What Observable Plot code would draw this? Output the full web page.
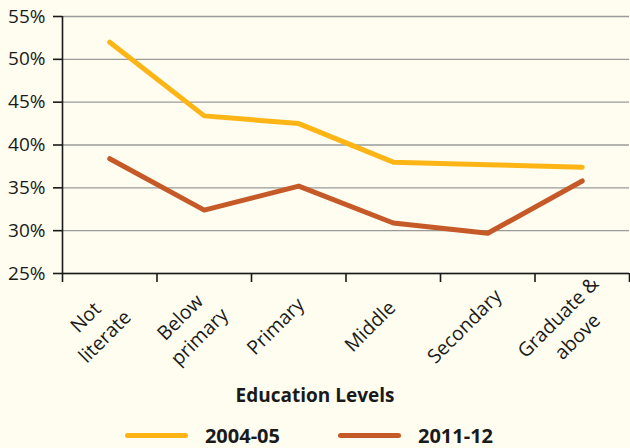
<!DOCTYPE html>
<html>
<head>
<meta charset="utf-8">
<script src="https://cdn.jsdelivr.net/npm/d3@7"></script>
<script src="https://cdn.jsdelivr.net/npm/@observablehq/plot@0.6"></script>
<style>
  html, body { margin: 0; padding: 0; background: #fefdf0; }
  body { width: 630px; height: 448px; overflow: hidden; font-family: "Open Sans", sans-serif; color: #1a1a1a; }
  #xlabel { text-align: center; font-weight: 700; font-size: 19px; height: 30px; line-height: 30px; }
  #legend { display: flex; justify-content: center; align-items: center; margin-top: 12px; height: 26px; padding-right: 12px; }
  .item { display: flex; align-items: center; font-weight: 700; font-size: 20px; }
  .sw { width: 63px; height: 5px; border-radius: 3px; margin-right: 17px; }
</style>
</head>
<body>
<div id="chart"></div>
<div id="xlabel">Education Levels</div>
<div id="legend"></div>
<script>
const categories = ["Not literate", "Below primary", "Primary", "Middle", "Secondary", "Graduate & above"];
const tickLabels = ["Not\nliterate", "Below\nprimary", "Primary", "Middle", "Secondary", "Graduate &\nabove"];
const series = ["2004-05", "2011-12"];
const values2004 = [52.0, 43.4, 42.5, 38.0, 37.7, 37.4];
const values2011 = [38.4, 32.4, 35.2, 30.9, 29.7, 35.8];
const yTicks = [25, 30, 35, 40, 45, 50, 55];
const colors = ["#fdb515", "#c55a28"];

const rows = [];
categories.forEach((c, i) => {
  rows.push({cat: c, idx: i, series: series[0], value: values2004[i]});
  rows.push({cat: c, idx: i, series: series[1], value: values2011[i]});
});
const labelRows = tickLabels.map((t, i) => ({t, idx: i, lines: t.split("\n").length}));

const chart = Plot.plot({
  width: 630,
  height: 380,
  marginLeft: 62,
  marginRight: 1,
  marginTop: 16,
  marginBottom: 107,
  style: {background: "transparent", fontFamily: "Open Sans, sans-serif", color: "#1a1a1a"},
  x: {domain: [0, categories.length], axis: null},
  y: {domain: [25, 55], axis: null},
  color: {domain: series, range: colors},
  marks: [
    Plot.gridY(yTicks, {stroke: "#9a9a9a", strokeOpacity: 1, strokeWidth: 1.3}),
    Plot.line(rows, {x: d => d.idx + 0.5, y: "value", z: "series", stroke: "series", strokeWidth: 5, strokeLinejoin: "round"}),
    Plot.ruleX([0], {stroke: "#1a1a1a", strokeWidth: 1.6}),
    Plot.ruleY([25], {stroke: "#1a1a1a", strokeWidth: 1.6}),
    Plot.axisY(yTicks, {tickSize: 9, tickPadding: 8, tickFormat: d => d + "%", fontSize: 19, stroke: "#1a1a1a", strokeWidth: 1.6, label: null}),
    Plot.axisX(d3.range(categories.length + 1), {tickSize: 9, tickFormat: () => "", stroke: "#1a1a1a", strokeWidth: 1.6, label: null}),
    Plot.text(labelRows.filter(d => d.lines === 1), {x: d => d.idx + 0.5, text: "t", frameAnchor: "bottom", dx: -23, dy: 53, rotate: -45, textAnchor: "middle", lineAnchor: "middle", fontSize: 19.5, fill: "#1a1a1a"}),
    Plot.text(labelRows.filter(d => d.lines > 1), {x: d => d.idx + 0.5, text: "t", frameAnchor: "bottom", dx: -16, dy: 52, rotate: -45, textAnchor: "middle", lineAnchor: "middle", lineHeight: 1.4, fontSize: 19.5, fill: "#1a1a1a"})
  ]
});
document.getElementById("chart").appendChild(chart);

const legend = document.getElementById("legend");
series.forEach((s, i) => {
  const item = document.createElement("div");
  item.className = "item";
  item.style.marginRight = i === 0 ? "58px" : "0";
  const sw = document.createElement("span");
  sw.className = "sw";
  sw.style.background = colors[i];
  item.appendChild(sw);
  item.appendChild(document.createTextNode(s));
  legend.appendChild(item);
});
</script>
</body>
</html>
